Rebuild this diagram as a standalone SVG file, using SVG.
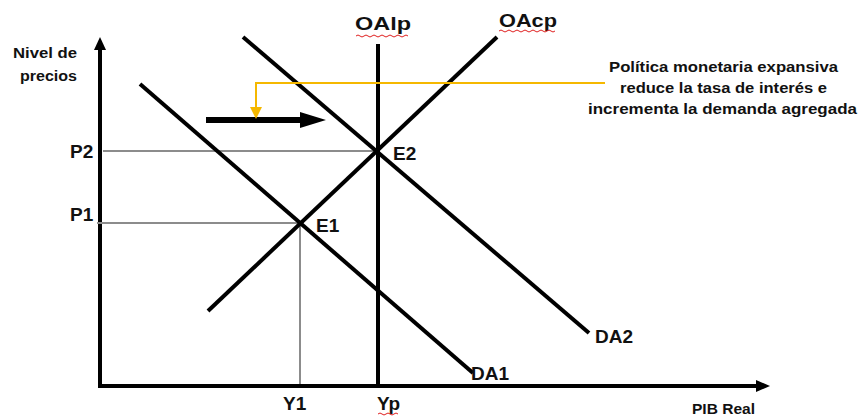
<svg xmlns="http://www.w3.org/2000/svg" width="861" height="418" viewBox="0 0 861 418">
<style>
text{font-family:"Liberation Sans",Arial,sans-serif;font-weight:bold;fill:#111}
.lab{font-size:19px}
.sm{font-size:14px}
.note{font-size:15px}
.curve{stroke:#000;stroke-width:4;fill:none}
.guide{stroke:#8c8c8c;stroke-width:2;fill:none}
.sq{stroke:#e02020;stroke-width:1;fill:none}
</style>
<rect width="861" height="418" fill="#fff"/>
<g id="axes">
<line x1="100" y1="386" x2="100" y2="48" stroke="#000" stroke-width="4"/>
<polygon points="94,50 100,37 106,50" fill="#000"/>
<line x1="98" y1="386" x2="758" y2="386" stroke="#000" stroke-width="4"/>
<polygon points="756,380 770,386 756,392" fill="#000"/>
<text class="sm" x="13" y="58" textLength="64" lengthAdjust="spacingAndGlyphs">Nivel de</text>
<text class="sm" x="20" y="81" textLength="57" lengthAdjust="spacingAndGlyphs">precios</text>
<text class="sm" x="692" y="414" textLength="63" lengthAdjust="spacingAndGlyphs">PIB Real</text>
</g>
<g id="guides">
<line class="guide" x1="103" y1="151" x2="378" y2="151"/>
<line class="guide" x1="97" y1="223" x2="302" y2="223"/>
<line class="guide" x1="300" y1="223" x2="300" y2="384"/>
<text class="lab" x="70" y="158">P2</text>
<text class="lab" x="70" y="221">P1</text>
<text class="lab" x="283" y="410">Y1</text>
<text class="lab" x="377" y="410">Yp</text>
<path class="sq" d="M378,414 q2,-2 4,0 t4,0 t4,0 t4,0 t4,0"/>
</g>
<g id="OAlp">
<line class="curve" x1="378" y1="44" x2="378" y2="386"/>
<text class="lab" x="355" y="30" textLength="56" lengthAdjust="spacingAndGlyphs">OAlp</text>
<path class="sq" d="M356,36 q2,-2 4,0 t4,0 t4,0 t4,0 t4,0 t4,0 t4,0 t4,0 t4,0 t4,0 t4,0 t4,0 t4,0"/>
</g>
<g id="OAcp">
<line class="curve" x1="497" y1="37" x2="208" y2="311"/>
<text class="lab" x="499" y="27" textLength="58" lengthAdjust="spacingAndGlyphs">OAcp</text>
<path class="sq" d="M499,31 q2,-2 4,0 t4,0 t4,0 t4,0 t4,0 t4,0 t4,0 t4,0 t4,0 t4,0 t4,0 t4,0 t4,0 t4,0"/>
</g>
<g id="DA1">
<line class="curve" x1="140" y1="84" x2="473" y2="373"/>
<text class="lab" x="471" y="380">DA1</text>
</g>
<g id="DA2">
<line class="curve" x1="243" y1="37" x2="589" y2="333"/>
<text class="lab" x="595" y="343">DA2</text>
</g>
<g id="E1"><text class="lab" x="316" y="232">E1</text></g>
<g id="E2"><text class="lab" x="393" y="160">E2</text></g>
<g id="shift">
<line x1="206" y1="120" x2="302" y2="120" stroke="#000" stroke-width="6"/>
<polygon points="300,112 326,120 300,128" fill="#000"/>
</g>
<g id="note">
<polyline points="605,83 256,83 256,108" fill="none" stroke="#f5b800" stroke-width="2"/>
<polygon points="250,107 262,107 256,119" fill="#f5b800"/>
<text class="note" x="609" y="72" textLength="229" lengthAdjust="spacingAndGlyphs">Política monetaria expansiva</text>
<text class="note" x="620" y="93" textLength="207" lengthAdjust="spacingAndGlyphs">reduce la tasa de interés e</text>
<text class="note" x="588" y="114" textLength="269" lengthAdjust="spacingAndGlyphs">incrementa la demanda agregada</text>
</g>
</svg>
